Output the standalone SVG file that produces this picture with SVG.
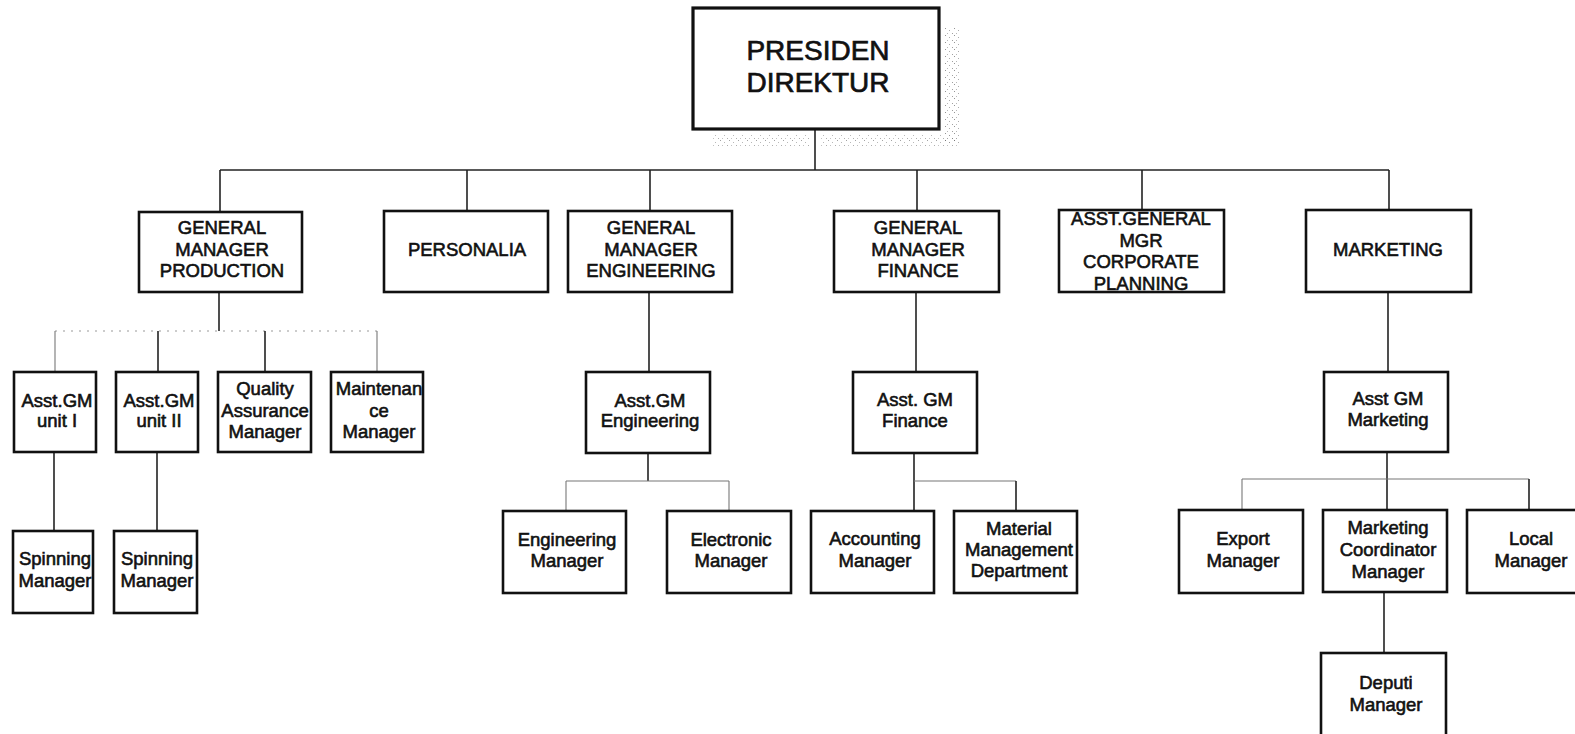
<svg xmlns="http://www.w3.org/2000/svg" width="1575" height="734" viewBox="0 0 1575 734">
  <style>
    .box { fill: #ffffff; stroke: #111111; stroke-width: 2.6; }
    .top { fill: #ffffff; stroke: #111111; stroke-width: 3.2; }
    .lbl { font-family: "Liberation Sans", Arial, sans-serif; font-size: 18.5px; fill: #111111; stroke: #111111; stroke-width: 0.6; text-anchor: middle; }
    .big { font-size: 28px; stroke-width: 0.7; }
    .link { fill: none; stroke: #222222; stroke-width: 1.6; }
    .faint { fill: none; stroke: #777777; stroke-width: 1.1; }
    .dotted { fill: none; stroke: #999999; stroke-width: 1.2; stroke-dasharray: 2 6; }
  </style>
  <defs>
    <!-- stippled toner shadow beside the top box -->
    <pattern id="stipple" width="9" height="7" patternUnits="userSpaceOnUse">
      <rect x="0" y="0" width="1" height="1" fill="#666"/>
      <rect x="4" y="2" width="1" height="1" fill="#888"/>
      <rect x="7" y="5" width="1" height="1" fill="#777"/>
      <rect x="2" y="5" width="1" height="1" fill="#999"/>
    </pattern>
  </defs>
  <rect width="1575" height="734" fill="#ffffff"/>

  <!-- stipple shadow -->
  <rect x="944" y="28" width="15" height="115" fill="url(#stipple)" opacity="0.7"/>
  <rect x="712" y="134" width="246" height="13" fill="url(#stipple)" opacity="0.6"/>
  <rect x="810" y="130" width="10" height="18" fill="#ffffff"/>

  <g id="connectors">
    <!-- president to level one -->
    <line class="link" x1="815" y1="129" x2="815" y2="170"/>
    <line class="link" x1="220" y1="170" x2="1389" y2="170"/>
    <line class="link" x1="220" y1="170" x2="220" y2="212"/>
    <line class="link" x1="467" y1="170" x2="467" y2="211"/>
    <line class="link" x1="650" y1="170" x2="650" y2="211"/>
    <line class="link" x1="917" y1="170" x2="917" y2="211"/>
    <line class="link" x1="1142" y1="170" x2="1142" y2="210"/>
    <line class="link" x1="1389" y1="170" x2="1389" y2="210"/>

    <!-- production -->
    <line class="link" x1="219" y1="292" x2="219" y2="331"/>
    <line class="dotted" x1="55" y1="331" x2="377" y2="331"/>
    <line class="faint" x1="55" y1="331" x2="55" y2="372"/>
    <line class="link" x1="158" y1="331" x2="158" y2="372"/>
    <line class="link" x1="265" y1="331" x2="265" y2="372"/>
    <line class="faint" x1="377" y1="331" x2="377" y2="372"/>
    <line class="link" x1="54" y1="452" x2="54" y2="531"/>
    <line class="link" x1="157" y1="452" x2="157" y2="531"/>

    <!-- engineering -->
    <line class="link" x1="649" y1="292" x2="649" y2="372"/>
    <line class="link" x1="648" y1="453" x2="648" y2="481"/>
    <line class="faint" x1="566" y1="481" x2="729" y2="481"/>
    <line class="faint" x1="566" y1="481" x2="566" y2="511"/>
    <line class="faint" x1="729" y1="481" x2="729" y2="511"/>

    <!-- finance -->
    <line class="link" x1="916" y1="292" x2="916" y2="372"/>
    <line class="link" x1="914" y1="453" x2="914" y2="511"/>
    <line class="faint" x1="914" y1="481" x2="1016" y2="481"/>
    <line class="link" x1="1016" y1="481" x2="1016" y2="511"/>

    <!-- marketing -->
    <line class="link" x1="1388" y1="292" x2="1388" y2="372"/>
    <line class="link" x1="1387" y1="452" x2="1387" y2="510"/>
    <line class="faint" x1="1242" y1="479" x2="1529" y2="479"/>
    <line class="faint" x1="1242" y1="479" x2="1242" y2="510"/>
    <line class="link" x1="1529" y1="479" x2="1529" y2="510"/>
    <line class="link" x1="1384" y1="592" x2="1384" y2="653"/>
  </g>

  <g id="presiden-direktur">
    <rect class="top" x="693" y="8" width="246" height="121"/>
    <text class="lbl big" x="818" y="60">PRESIDEN</text>
    <text class="lbl big" x="818" y="92">DIREKTUR</text>
  </g>

  <g id="gm-production">
    <rect class="box" x="139" y="212" width="163" height="80"/>
    <text class="lbl" x="222" y="234">GENERAL</text>
    <text class="lbl" x="222" y="256">MANAGER</text>
    <text class="lbl" x="222" y="277">PRODUCTION</text>
  </g>

  <g id="personalia">
    <rect class="box" x="384" y="211" width="164" height="81"/>
    <text class="lbl" x="467" y="256">PERSONALIA</text>
  </g>

  <g id="gm-engineering">
    <rect class="box" x="568" y="211" width="164" height="81"/>
    <text class="lbl" x="651" y="234">GENERAL</text>
    <text class="lbl" x="651" y="256">MANAGER</text>
    <text class="lbl" x="651" y="277">ENGINEERING</text>
  </g>

  <g id="gm-finance">
    <rect class="box" x="834" y="211" width="165" height="81"/>
    <text class="lbl" x="918" y="234">GENERAL</text>
    <text class="lbl" x="918" y="256">MANAGER</text>
    <text class="lbl" x="918" y="277">FINANCE</text>
  </g>

  <g id="asst-gm-corporate-planning">
    <rect class="box" x="1059" y="210" width="165" height="82"/>
    <text class="lbl" x="1141" y="225">ASST.GENERAL</text>
    <text class="lbl" x="1141" y="247">MGR</text>
    <text class="lbl" x="1141" y="268">CORPORATE</text>
    <text class="lbl" x="1141" y="290">PLANNING</text>
  </g>

  <g id="marketing">
    <rect class="box" x="1306" y="210" width="165" height="82"/>
    <text class="lbl" x="1388" y="256">MARKETING</text>
  </g>

  <g id="asst-gm-unit-1">
    <rect class="box" x="14" y="372" width="82" height="80"/>
    <text class="lbl" x="57" y="407">Asst.GM</text>
    <text class="lbl" x="57" y="427">unit I</text>
  </g>

  <g id="asst-gm-unit-2">
    <rect class="box" x="116" y="372" width="82" height="80"/>
    <text class="lbl" x="159" y="407">Asst.GM</text>
    <text class="lbl" x="159" y="427">unit II</text>
  </g>

  <g id="quality-assurance">
    <rect class="box" x="218" y="372" width="93" height="80"/>
    <text class="lbl" x="265" y="395">Quality</text>
    <text class="lbl" x="265" y="417">Assurance</text>
    <text class="lbl" x="265" y="438">Manager</text>
  </g>

  <g id="maintenance">
    <rect class="box" x="331" y="372" width="92" height="80"/>
    <text class="lbl" x="379" y="395">Maintenan</text>
    <text class="lbl" x="379" y="417">ce</text>
    <text class="lbl" x="379" y="438">Manager</text>
  </g>

  <g id="spinning-1">
    <rect class="box" x="13" y="531" width="80" height="82"/>
    <text class="lbl" x="55" y="565">Spinning</text>
    <text class="lbl" x="55" y="587">Manager</text>
  </g>

  <g id="spinning-2">
    <rect class="box" x="114" y="531" width="83" height="82"/>
    <text class="lbl" x="157" y="565">Spinning</text>
    <text class="lbl" x="157" y="587">Manager</text>
  </g>

  <g id="asst-gm-engineering">
    <rect class="box" x="586" y="372" width="124" height="81"/>
    <text class="lbl" x="650" y="407">Asst.GM</text>
    <text class="lbl" x="650" y="427">Engineering</text>
  </g>

  <g id="engineering-manager">
    <rect class="box" x="503" y="511" width="123" height="82"/>
    <text class="lbl" x="567" y="546">Engineering</text>
    <text class="lbl" x="567" y="567">Manager</text>
  </g>

  <g id="electronic-manager">
    <rect class="box" x="667" y="511" width="124" height="82"/>
    <text class="lbl" x="731" y="546">Electronic</text>
    <text class="lbl" x="731" y="567">Manager</text>
  </g>

  <g id="asst-gm-finance">
    <rect class="box" x="853" y="372" width="124" height="81"/>
    <text class="lbl" x="915" y="406">Asst. GM</text>
    <text class="lbl" x="915" y="427">Finance</text>
  </g>

  <g id="accounting-manager">
    <rect class="box" x="811" y="511" width="123" height="82"/>
    <text class="lbl" x="875" y="545">Accounting</text>
    <text class="lbl" x="875" y="567">Manager</text>
  </g>

  <g id="material-management">
    <rect class="box" x="954" y="511" width="123" height="82"/>
    <text class="lbl" x="1019" y="535">Material</text>
    <text class="lbl" x="1019" y="556">Management</text>
    <text class="lbl" x="1019" y="577">Department</text>
  </g>

  <g id="asst-gm-marketing">
    <rect class="box" x="1324" y="372" width="124" height="80"/>
    <text class="lbl" x="1388" y="405">Asst GM</text>
    <text class="lbl" x="1388" y="426">Marketing</text>
  </g>

  <g id="export-manager">
    <rect class="box" x="1179" y="510" width="124" height="83"/>
    <text class="lbl" x="1243" y="545">Export</text>
    <text class="lbl" x="1243" y="567">Manager</text>
  </g>

  <g id="marketing-coordinator">
    <rect class="box" x="1323" y="510" width="124" height="82"/>
    <text class="lbl" x="1388" y="534">Marketing</text>
    <text class="lbl" x="1388" y="556">Coordinator</text>
    <text class="lbl" x="1388" y="578">Manager</text>
  </g>

  <g id="local-manager">
    <rect class="box" x="1467" y="510" width="120" height="83"/>
    <text class="lbl" x="1531" y="545">Local</text>
    <text class="lbl" x="1531" y="567">Manager</text>
  </g>

  <g id="deputi-manager">
    <rect class="box" x="1321" y="653" width="125" height="90"/>
    <text class="lbl" x="1386" y="689">Deputi</text>
    <text class="lbl" x="1386" y="711">Manager</text>
  </g>
</svg>
